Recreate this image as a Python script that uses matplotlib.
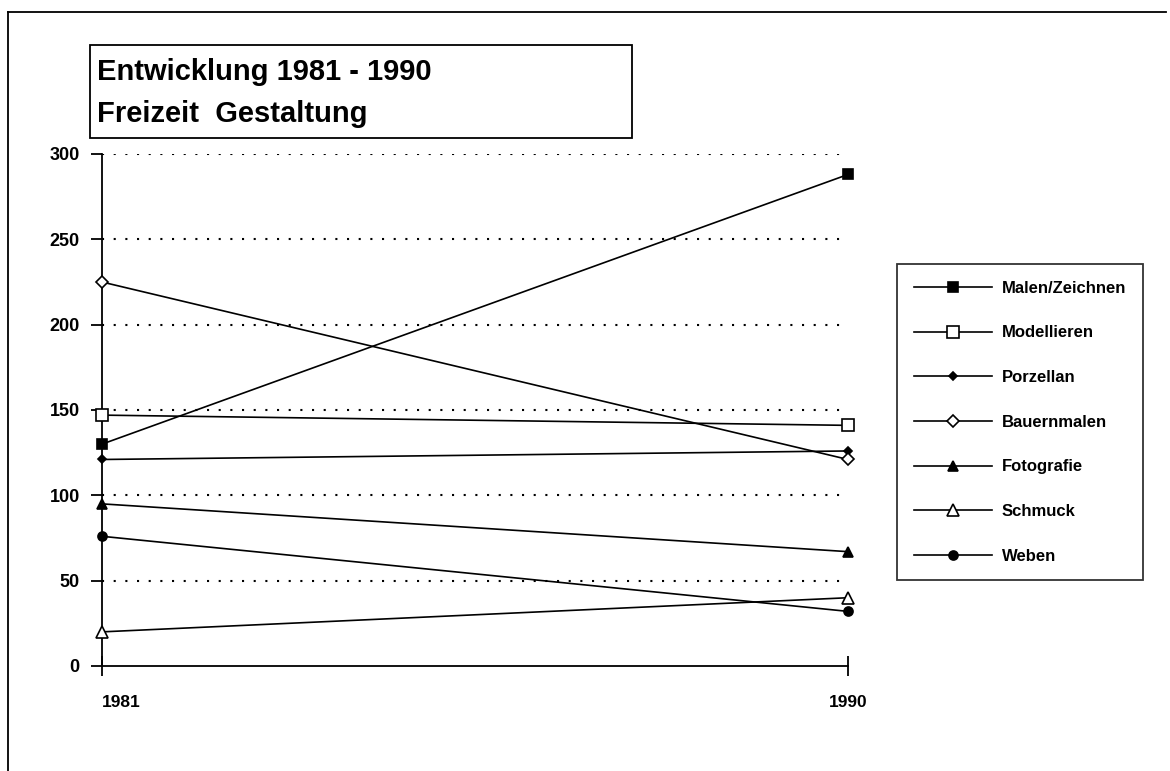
import matplotlib
matplotlib.use("Agg")
import matplotlib.pyplot as plt
from matplotlib.patches import Rectangle
from matplotlib.lines import Line2D

plt.rcParams['font.family'] = ['Liberation Sans', 'DejaVu Sans']
plt.rcParams['font.weight'] = 'bold'

years = [1981, 1990]
series_names = ["Malen/Zeichnen", "Modellieren", "Porzellan", "Bauernmalen",
                "Fotografie", "Schmuck", "Weben"]
malen = [130, 288]
modellieren = [147, 141]
porzellan = [121, 126]
bauernmalen = [225, 121]
fotografie = [95, 67]
schmuck = [20, 40]
weben = [76, 32]
yticks = [0, 50, 100, 150, 200, 250, 300]

W, H = 1170, 771
fig = plt.figure(figsize=(W / 100, H / 100), dpi=100)
fig.patch.set_facecolor('white')

def fx(px):
    return px / W

def fy(py):
    return 1 - py / H

ax = fig.add_axes([fx(102), fy(666), fx(848) - fx(102), fy(154) - fy(666)])

styles = [
    dict(marker='s', markersize=6.5, markerfacecolor='black'),
    dict(marker='s', markersize=9, markerfacecolor='white'),
    dict(marker='D', markersize=4, markerfacecolor='black'),
    dict(marker='D', markersize=6.5, markerfacecolor='white'),
    dict(marker='^', markersize=6.5, markerfacecolor='black'),
    dict(marker='^', markersize=9, markerfacecolor='white'),
    dict(marker='o', markersize=6.5, markerfacecolor='black'),
]
data = [malen, modellieren, porzellan, bauernmalen, fotografie, schmuck, weben]

for name, values, st in zip(series_names, data, styles):
    ax.plot(years, values, color='black', linewidth=1.2, markeredgecolor='black',
            markeredgewidth=1.2, clip_on=False, label=name, zorder=3, **st)

for v in yticks[1:]:
    ax.axhline(v, color='black', linewidth=1.5, linestyle=(0, (1.0, 4.6)), zorder=1)

ax.set_xlim(1981, 1990)
ax.set_ylim(0, 300)
ax.set_yticks(yticks)
ax.set_xticks(years)
ax.set_xticklabels([str(y) for y in years])
for s in ['top', 'right']:
    ax.spines[s].set_visible(False)
ax.spines['left'].set_linewidth(1.3)
ax.spines['bottom'].set_linewidth(1.3)
ax.tick_params(axis='y', direction='out', length=8, width=1.3, labelsize=13, pad=8)
ax.tick_params(axis='x', direction='inout', length=14, width=1.3, labelsize=12.5, pad=14)
for lbl in ax.get_xticklabels() + ax.get_yticklabels():
    lbl.set_fontweight('bold')
ax.get_xticklabels()[0].set_horizontalalignment('left')

leg = ax.legend(loc='upper left', bbox_to_anchor=(fx(897), fy(264)),
                bbox_transform=fig.transFigure, frameon=True, fancybox=False,
                edgecolor='black', fontsize=12, handlelength=4.7,
                labelspacing=1.78, borderpad=1.0, handletextpad=0.6,
                borderaxespad=0)
leg.get_frame().set_linewidth(1.3)
for t in leg.get_texts():
    t.set_fontweight('bold')

# title box
fig.add_artist(Rectangle((fx(90), fy(138)), fx(632) - fx(90), fy(45) - fy(138),
                         transform=fig.transFigure, fill=False,
                         edgecolor='black', linewidth=1.3))
fig.text(fx(97), fy(72), "Entwicklung 1981 - 1990", fontsize=21,
         fontweight='bold', va='center', ha='left')
fig.text(fx(97), fy(114), "Freizeit  Gestaltung", fontsize=21,
         fontweight='bold', va='center', ha='left')

# outer frame
fig.add_artist(Line2D([fx(8), fx(8)], [fy(12), 0], transform=fig.transFigure,
                      color='black', linewidth=1.3))
fig.add_artist(Line2D([fx(8), fx(1166)], [fy(12), fy(12)], transform=fig.transFigure,
                      color='black', linewidth=1.3))

fig.savefig("out.png", dpi=100)
